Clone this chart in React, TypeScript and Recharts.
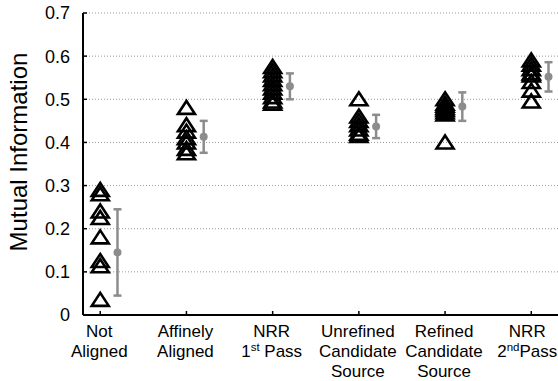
import React from "react";
import { ScatterChart, Scatter, XAxis, YAxis, CartesianGrid, ErrorBar } from "recharts";

// category labels, {..} marks a superscript
const CATEGORY_LABELS = [
  ["Not", "Aligned"],
  ["Affinely", "Aligned"],
  ["NRR", "1{st} Pass"],
  ["Unrefined", "Candidate", "Source"],
  ["Refined", "Candidate", "Source"],
  ["NRR", "2{nd}Pass"],
];

// individual runs (triangles)
const NOT_ALIGNED = [0.29, 0.28, 0.24, 0.225, 0.18, 0.125, 0.113, 0.035];
const AFFINELY_ALIGNED = [0.48, 0.44, 0.425, 0.41, 0.4, 0.385, 0.375];
const NRR_FIRST = [0.575, 0.565, 0.555, 0.545, 0.535, 0.525, 0.515, 0.505, 0.495, 0.49];
const UNREFINED = [0.5, 0.46, 0.45, 0.44, 0.43, 0.42, 0.415];
const REFINED = [0.5, 0.49, 0.485, 0.48, 0.475, 0.47, 0.465, 0.4];
const NRR_SECOND = [0.59, 0.58, 0.57, 0.56, 0.555, 0.54, 0.52, 0.495];

// mean +/- error (gray)
const MEANS = [0.145, 0.413, 0.53, 0.437, 0.483, 0.552];
const ERRORS = [0.1, 0.037, 0.03, 0.027, 0.033, 0.034];

const Y_TICKS = [0, 0.1, 0.2, 0.3, 0.4, 0.5, 0.6, 0.7];
const X_TICKS = [1, 2, 3, 4, 5, 6];

const GROUPS = [NOT_ALIGNED, AFFINELY_ALIGNED, NRR_FIRST, UNREFINED, REFINED, NRR_SECOND];
const runData = GROUPS.flatMap((vals, i) => vals.map((v) => ({ x: i + 1, y: v })));
const meanData = MEANS.map((m, i) => ({ x: i + 1.2, y: m, err: ERRORS[i] }));

const FONT = "'Liberation Sans', Arial, sans-serif";
const GRAY = "#8c8c8c";

const Triangle = (props: any) => {
  const { cx, cy } = props;
  if (cx == null || cy == null) return null;
  return (
    <path
      d={`M${cx},${cy - 7} L${cx + 8.5},${cy + 6} L${cx - 8.5},${cy + 6} Z`}
      fill="none"
      stroke="#000"
      strokeWidth={2.6}
    />
  );
};

const MeanDot = (props: any) => {
  const { cx, cy } = props;
  if (cx == null || cy == null) return null;
  return <circle cx={cx} cy={cy} r={4} fill={GRAY} />;
};

function renderLine(line: string, key: number, x: number, y: number) {
  const parts = line.split(/(\{[^}]*\})/).filter((p) => p.length > 0);
  const out: React.ReactNode[] = [];
  let raised = false;
  parts.forEach((p, j) => {
    if (p.startsWith("{")) {
      out.push(
        <tspan key={j} dy={-6} fontSize={11.5}>
          {p.slice(1, -1)}
        </tspan>
      );
      raised = true;
    } else {
      out.push(
        <tspan key={j} dy={raised ? 6 : 0} fontSize={17}>
          {p}
        </tspan>
      );
      raised = false;
    }
  });
  return (
    <text key={key} x={x} y={y} textAnchor="middle" fontFamily={FONT} fill="#000">
      {out}
    </text>
  );
}

const BottomTick = (props: any) => {
  const { x, y, payload } = props;
  const idx = Math.round(payload.value) - 1;
  const lines = CATEGORY_LABELS[idx] || [];
  // last label sits against the right edge of the picture
  const shift = idx === CATEGORY_LABELS.length - 1 ? -4 : -1;
  return (
    <g>
      <line x1={x} x2={x} y1={y} y2={y - 4} stroke="#000" strokeWidth={1.5} />
      {lines.map((l, k) => renderLine(l, k, x + shift, y + 22 + k * 20))}
    </g>
  );
};

const TopTick = (props: any) => {
  const { x, y } = props;
  return <line x1={x} x2={x} y1={y} y2={y + 4} stroke="#000" strokeWidth={1.5} />;
};

const LeftTick = (props: any) => {
  const { x, y, payload } = props;
  const v = Number(payload.value);
  return (
    <g>
      <line x1={x} x2={x + 4} y1={y} y2={y} stroke="#000" strokeWidth={1.5} />
      <text x={x - 13} y={y} dy="0.36em" textAnchor="end" fontFamily={FONT} fontSize={18} fill="#000">
        {v === 0 ? "0" : v.toFixed(1)}
      </text>
    </g>
  );
};

const YTitle = () => (
  <text
    transform="translate(27,152) rotate(-90)"
    textAnchor="middle"
    fontFamily={FONT}
    fontSize={24}
    fill="#000"
  >
    Mutual Information
  </text>
);

export default function App() {
  return (
    <div style={{ position: "absolute", left: 0, top: 0, width: 558, height: 381, overflow: "hidden", background: "#fff" }}>
      <ScatterChart width={558} height={381} margin={{ top: 13, right: 0, left: 0, bottom: 0 }}>
        <CartesianGrid vertical={false} stroke="#999" strokeDasharray="1 2" />
        <XAxis
          xAxisId="bottom"
          dataKey="x"
          type="number"
          domain={[0.8, 6.31]}
          ticks={X_TICKS}
          allowDataOverflow
          height={66}
          tickSize={0}
          tickMargin={0}
          tickLine={false}
          axisLine={{ stroke: "#000", strokeWidth: 2 }}
          tick={<BottomTick />}
          interval={0}
        />
        <XAxis
          xAxisId="top"
          orientation="top"
          type="number"
          domain={[0.8, 6.31]}
          ticks={X_TICKS}
          allowDataOverflow
          height={0}
          tickSize={0}
          tickMargin={0}
          tickLine={false}
          axisLine={{ stroke: "#000", strokeWidth: 2 }}
          tick={<TopTick />}
          interval={0}
        />
        <YAxis
          dataKey="y"
          type="number"
          domain={[0, 0.7]}
          ticks={Y_TICKS}
          allowDataOverflow
          width={83}
          tickSize={0}
          tickMargin={0}
          tickLine={false}
          axisLine={{ stroke: "#000", strokeWidth: 2 }}
          tick={<LeftTick />}
          interval={0}
          label={{ content: () => <YTitle /> }}
        />
        <Scatter xAxisId="bottom" data={runData} shape={<Triangle />} isAnimationActive={false} />
        <Scatter xAxisId="bottom" data={meanData} shape={<MeanDot />} isAnimationActive={false}>
          <ErrorBar dataKey="err" direction="y" width={4} stroke={GRAY} strokeWidth={2.5} />
        </Scatter>
      </ScatterChart>
    </div>
  );
}
